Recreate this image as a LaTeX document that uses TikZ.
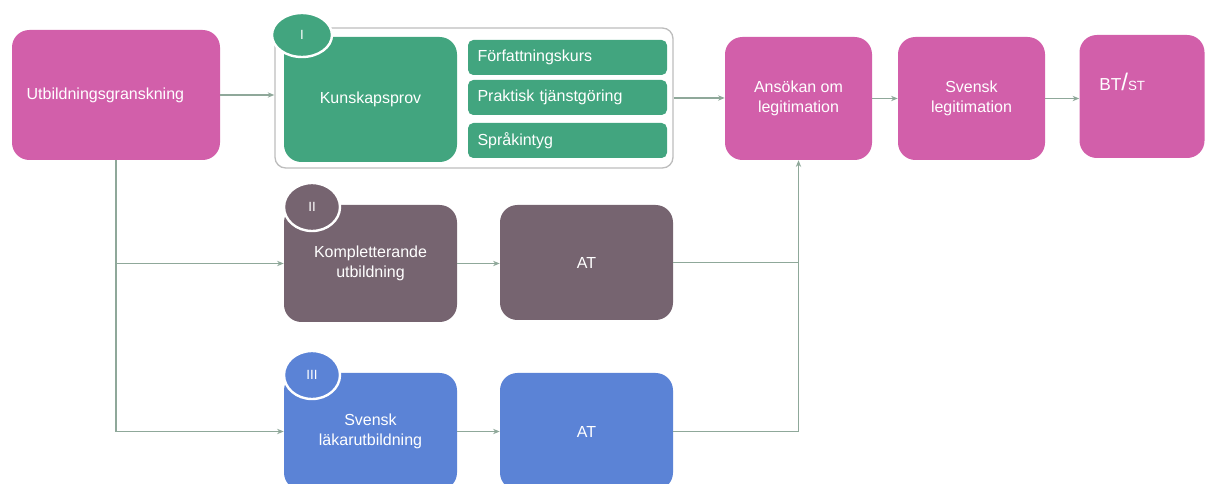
\documentclass[tikz,border=0pt]{standalone}
\usepackage{fontspec}
\setmainfont{Liberation Sans}
\usetikzlibrary{arrows.meta,shapes.geometric}
\definecolor{rosa}{HTML}{D25FAA}
\definecolor{gron}{HTML}{42A57F}
\definecolor{lila}{HTML}{766470}
\definecolor{bla}{HTML}{5B83D6}
\definecolor{ram}{HTML}{BDBDBD}
\definecolor{pil}{HTML}{8FA89A}

\begin{document}
\begin{tikzpicture}[x=0.75pt,y=-0.75pt,
  box/.style={rounded corners=13pt,text=white,align=center,inner sep=0pt,
    font=\fontsize{12}{15}\selectfont},
  delbox/.style={fill=gron,rounded corners=4pt,text=white,align=left,inner sep=0pt,
    minimum width=149.25pt,minimum height=26.25pt,text width=135pt,
    font=\fontsize{12}{15}\selectfont},
  badge/.style={ellipse,draw=white,line width=1.8pt,text=white,inner sep=0pt,
    font=\fontsize{10}{12}\selectfont},
  flow/.style={draw=pil,line width=1.1pt,-{Stealth[length=5pt,width=4pt]}},
  linje/.style={draw=pil,line width=1.1pt}]
  \useasboundingbox (0,0) rectangle (1207,484);

  % start
  \node[box,fill=rosa,minimum width=156pt,minimum height=97.5pt,text width=134pt,align=left]
    (utb) at (116,95) {Utbildningsgranskning};

  % I: kunskapsprov group
  \node[draw=ram,line width=1pt,rounded corners=8pt,minimum width=298.5pt,minimum height=105pt]
    (grupp) at (474,98) {};
  \node[box,fill=gron,minimum width=129.75pt,minimum height=93.75pt] (kunsk) at (370.5,99.5) {Kunskapsprov};
  \node[delbox] (fk) at (567.5,57.5) {Författningskurs};
  \node[delbox] (pt) at (567.5,97.5) {Praktisk tjänstgöring};
  \node[delbox] (sp) at (567.5,140.5) {Språkintyg};

  % II
  \node[box,fill=lila,minimum width=129.75pt,minimum height=87.75pt] (kompl) at (370.5,263.5) {Kompletterande\\utbildning};
  \node[box,fill=lila,minimum width=129.75pt,minimum height=86.25pt] (at2) at (586.5,262.5) {AT};

  % III
  \node[box,fill=bla,minimum width=129.75pt,minimum height=87.75pt] (sla) at (370.5,431.5) {Svensk\\läkarutbildning};
  \node[box,fill=bla,minimum width=129.75pt,minimum height=87.75pt] (at3) at (586.5,431.5) {AT};

  % legitimation
  \node[box,fill=rosa,minimum width=110.25pt,minimum height=92.25pt] (ans) at (798.5,98.5) {Ansökan om\\legitimation};
  \node[box,fill=rosa,minimum width=110.25pt,minimum height=92.25pt] (svl) at (971.5,98.5) {Svensk\\legitimation};
  \node[box,fill=rosa,minimum width=93.75pt,minimum height=92.25pt] (btst) at (1142,96.5) {};
  \node[anchor=west,text=white,inner sep=0pt] (btsttxt) at (1099,82)
    {\fontsize{13}{15}\selectfont BT{\fontsize{18}{18}\selectfont/}\fontsize{10}{12}\selectfont ST};

  % arrows
  \draw[flow] (utb.east) -- (grupp.west |- utb.east);
  \draw[flow] (grupp.east) -- (ans.west |- grupp.east);
  \draw[flow] (ans) -- (svl);
  \draw[flow] (svl.east) -- (svl.east -| btst.west);
  \coordinate (gren) at (utb.south |- kompl.west);
  \draw[flow] (utb.south) |- (sla.west);
  \draw[flow] (gren) -- (kompl.west);
  \draw[flow] (kompl.east) -- (kompl.east -| at2.west);
  \draw[flow] (sla) -- (at3);
  \coordinate (samla) at (ans.south |- at2.east);
  \draw[linje] (at2.east) -- (samla);
  \draw[flow] (at3.east) -| (ans.south);

  % badges
  \node[badge,fill=gron,minimum width=45pt,minimum height=33pt] (b1) at (302,35) {I};
  \node[badge,fill=lila,minimum width=42pt,minimum height=36pt] (b2) at (312,207) {II};
  \node[badge,fill=bla,minimum width=42pt,minimum height=36pt] (b3) at (312,375) {III};
\end{tikzpicture}
\end{document}
